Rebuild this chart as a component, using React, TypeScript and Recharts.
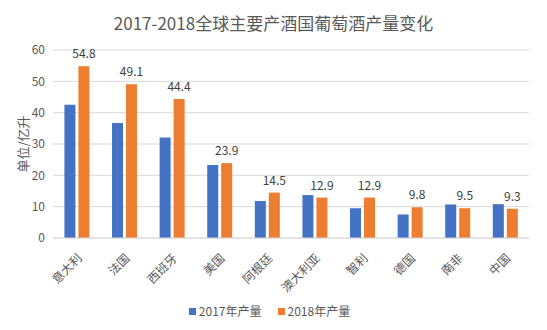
import { BarChart, Bar, XAxis, YAxis, CartesianGrid, Legend, LabelList } from 'recharts';

const countries = ['意大利', '法国', '西班牙', '美国', '阿根廷', '澳大利亚', '智利', '德国', '南非', '中国'];
const output2017 = [42.5, 36.7, 32.1, 23.3, 11.8, 13.7, 9.5, 7.5, 10.7, 10.8];
const output2018 = [54.8, 49.1, 44.4, 23.9, 14.5, 12.9, 12.9, 9.8, 9.5, 9.3];
const yTicks = [0, 10, 20, 30, 40, 50, 60];

const BLUE = '#4472C4';
const ORANGE = '#ED7D31';
const TEXT = '#595959';
const FONT = '"Noto Sans CJK SC", "Noto Sans", sans-serif';

const chartData = countries.map((name, i) => ({
  name,
  y2017: output2017[i],
  y2018: output2018[i],
}));

// rotated category labels, anchored at their end like Excel does
function CountryTick({ x, y, payload }: any) {
  const ax = x + 6;
  const ay = y + 13;
  return (
    <text
      x={ax}
      y={ay}
      transform={`rotate(-45, ${ax}, ${ay})`}
      textAnchor="end"
      fontSize={12}
      fill={TEXT}
      fontFamily={FONT}
    >
      {payload.value}
    </text>
  );
}

function LegendBox() {
  const items = [
    { label: '2017年产量', color: BLUE },
    { label: '2018年产量', color: ORANGE },
  ];
  return (
    <div style={{ display: 'flex', justifyContent: 'center', gap: 16, fontSize: 12, lineHeight: '18px', color: TEXT, fontFamily: FONT }}>
      {items.map((it) => (
        <div key={it.label} style={{ display: 'flex', alignItems: 'center', gap: 3 }}>
          <div style={{ width: 7, height: 7, background: it.color }} />
          <span>{it.label}</span>
        </div>
      ))}
    </div>
  );
}

export default function App() {
  return (
    <div style={{ position: 'absolute', left: 0, top: 0, width: 547, height: 330, background: '#fff', fontFamily: FONT }}>
      <div
        style={{
          position: 'absolute',
          left: 0,
          top: 10,
          width: 547,
          textAlign: 'center',
          fontSize: 17,
          color: TEXT,
          fontFamily: FONT,
        }}
      >
        2017-2018全球主要产酒国葡萄酒产量变化
      </div>
      <BarChart
        width={547}
        height={330}
        data={chartData}
        margin={{ top: 50, right: 18, bottom: 8, left: 10 }}
        barCategoryGap="24%"
        barGap={3}
      >
        <CartesianGrid vertical={false} stroke="#d9d9d9" />
        <XAxis
          dataKey="name"
          height={64}
          interval={0}
          tickLine={false}
          axisLine={{ stroke: '#d9d9d9' }}
          tick={<CountryTick />}
        />
        <YAxis
          width={43}
          domain={[0, 60]}
          ticks={yTicks}
          axisLine={false}
          tickLine={false}
          tick={{ fontSize: 12, fill: TEXT, fontFamily: FONT }}
          label={{
            value: '单位/亿升',
            angle: -90,
            position: 'insideLeft',
            offset: 13,
            style: { fontSize: 13, fill: TEXT, fontFamily: FONT, textAnchor: 'middle' },
          }}
        />
        <Legend verticalAlign="bottom" height={20} content={<LegendBox />} />
        <Bar dataKey="y2017" name="2017年产量" fill={BLUE} isAnimationActive={false} />
        <Bar dataKey="y2018" name="2018年产量" fill={ORANGE} isAnimationActive={false}>
          <LabelList dataKey="y2018" position="top" offset={8} fontSize={12} fill="#404040" fontFamily={FONT} />
        </Bar>
      </BarChart>
    </div>
  );
}
